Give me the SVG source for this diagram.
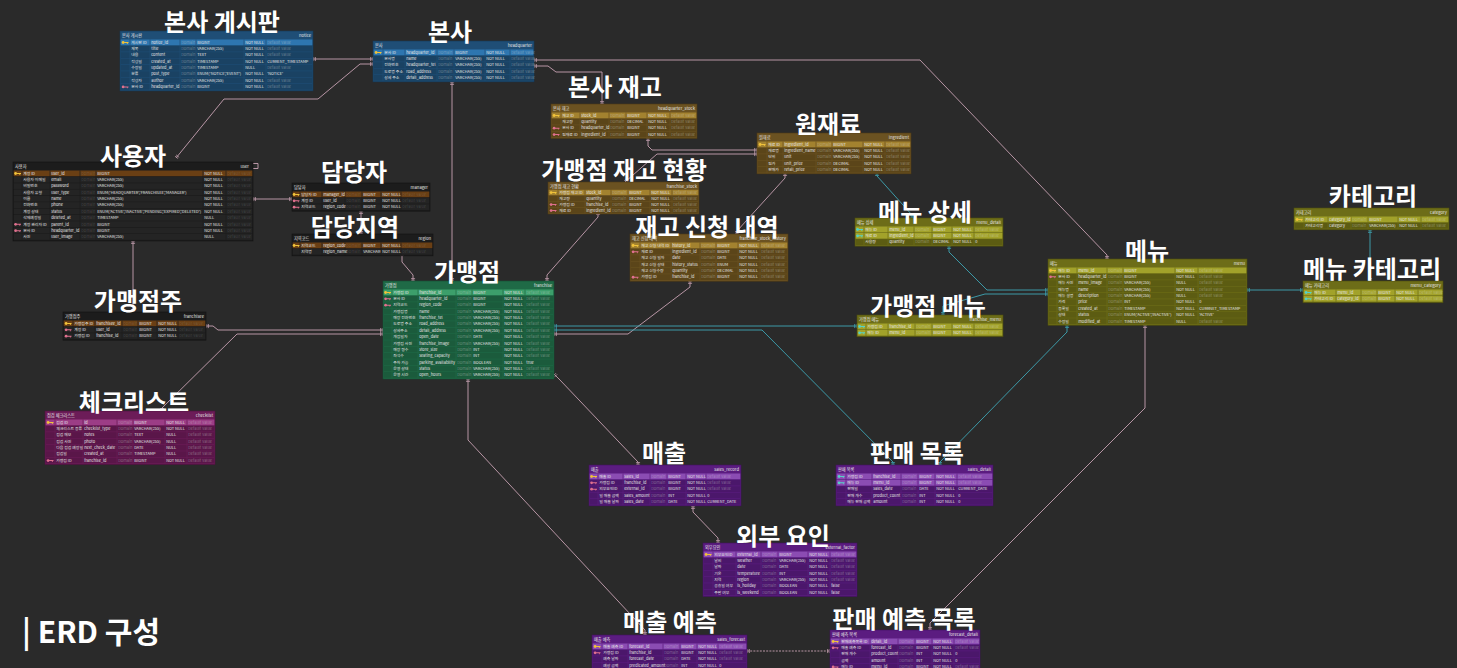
<svg xmlns="http://www.w3.org/2000/svg" width="1457" height="668" viewBox="0 0 1457 668">
<style>
.bg{fill:#2a2a2a}
.lb{font-family:"Noto Sans CJK KR","Noto Sans",sans-serif;font-weight:700;font-size:24px;fill:#fff;text-anchor:middle}
.ft{font-family:"Noto Sans CJK KR","Noto Sans",sans-serif;font-weight:700;font-size:30px;fill:#fff}
.tx{font-family:"Noto Sans CJK KR","Liberation Sans",sans-serif;font-size:3.9px;fill:#e6e6e6}
.hd{font-size:4.2px}
.en{text-anchor:end}
.dm{fill-opacity:.38}
.dark .dm{fill-opacity:.16}
.b{stroke-width:.6}
.s{stroke-width:.7;fill:none}
.blue .b{fill:#1f4e76;stroke:#163a58}.blue .r{fill:#1a4263}.blue .p{fill:#2e76b0}.blue .s{stroke:#1f4e76}
.dark .b{fill:#1c1c1c;stroke:#121212}.dark .r{fill:#242424}.dark .p{fill:#6a3f14}.dark .s{stroke:#1c1c1c}
.brown .b{fill:#6b5221;stroke:#4e3b14}.brown .r{fill:#5b4519}.brown .p{fill:#a3822f}.brown .s{stroke:#6b5221}
.green .b{fill:#1f6a46;stroke:#154d32}.green .r{fill:#1b5b3c}.green .p{fill:#3c9f6b}.green .s{stroke:#1f6a46}
.olive .b{fill:#6d6d18;stroke:#4d4d0e}.olive .r{fill:#5c5c12}.olive .p{fill:#a2a22a}.olive .s{stroke:#6d6d18}
.mag .b{fill:#6c1c58;stroke:#4e123f}.mag .r{fill:#5a1649}.mag .p{fill:#9c3d86}.mag .s{stroke:#6c1c58}
.pur .b{fill:#5b1c80;stroke:#42125e}.pur .r{fill:#4b176b}.pur .p{fill:#8b4cb3}.pur .s{stroke:#5b1c80}
.kp{fill:#f0c23a}.kf{fill:#e0708e}.kt{fill:#55d2c6}
.cp{fill:none;stroke:#c7a2b2;stroke-width:.9;marker-start:url(#mp);marker-end:url(#mp)}
.ct{fill:none;stroke:#3ea6b5;stroke-width:.9;marker-start:url(#mt);marker-end:url(#mt)}
.dash{stroke-dasharray:2 1.2}
</style>
<defs>
<g id="k"><circle cx="1.6" cy="2" r="1.4"/><path d="M2.6 1.5H7V2.5H6.2V3.4H5.4V2.5H2.6Z"/></g>
<marker id="mp" viewBox="0 0 6 6" refX="5" refY="3" markerWidth="5" markerHeight="5" markerUnits="userSpaceOnUse" orient="auto-start-reverse"><path d="M2 0.5V5.5M4 0.5V5.5" stroke="#c7a2b2" stroke-width=".8" fill="none"/></marker>
<marker id="mt" viewBox="0 0 6 6" refX="5" refY="3" markerWidth="5" markerHeight="5" markerUnits="userSpaceOnUse" orient="auto-start-reverse"><path d="M2 0.5V5.5M4 0.5V5.5" stroke="#3ea6b5" stroke-width=".8" fill="none"/></marker>
</defs>
<rect class="bg" width="1457" height="668"/>

<g id="connectors">
<path class="cp" d="M313 59H373"/>
<path class="cp" d="M176 158L224 99H318L360 64H373"/>
<path class="cp" d="M452 82V281"/>
<path class="cp" d="M534 66H548L556 72H602V104"/>
<path class="cp" d="M534 60H920L1107 255V259"/>
<path class="cp" d="M648 138V146L652 150H757"/>
<path class="cp" d="M625 182L657 154H757"/>
<path class="cp" d="M785 173V178L737 231V234"/>
<path class="cp" d="M598 212V217L547 275V281"/>
<path class="cp" d="M690 281V287L628 334H554"/>
<path class="cp" d="M402 253V262L413 275V281"/>
<path class="cp" d="M361 211V234"/>
<path class="cp" d="M253 199H292"/>
<path class="cp" d="M133 312V241"/>
<path class="cp" d="M383 330H218L213 326H206"/>
<path class="cp" d="M383 334H237L162 408V411"/>
<path class="cp" d="M554 374L560 380L638 462V465"/>
<path class="cp" d="M468 379V440L645 630V635"/>
<path class="cp" d="M1145 325V408L930 623V630"/>
<path class="cp" d="M693 506V512L718 538V543"/>
<path class="cp dash" d="M747 651H830"/>
<path fill="none" stroke="#c7a2b2" stroke-width=".9" d="M249 163.5H258V168.5H253"/>
<path class="ct" d="M554 326H857"/>
<path class="ct" d="M554 330H762L893 462V465"/>
<path class="ct" d="M949 246V252L987 290H1048"/>
<path class="ct" d="M943 315V306L985 294H1048"/>
<path class="ct" d="M877 173V176L912 215V218"/>
<path class="ct" d="M1067 325V332L940 462V465"/>
<path class="ct" d="M1247 290H1303"/>
<path class="ct" d="M1370 230V281"/>
</g>

<g id="node-notice">
<g class="blue tx" transform="translate(120,31)">
<rect class="b" width="193" height="59.9"/>
<text class="hd" x="2" y="6">본사 게시판</text><text class="hd en" x="191" y="6">notice</text>
<rect class="p" x=".7" y="8.5" width="191.6" height="5.75"/><rect class="r" x=".7" y="14.85" width="191.6" height="5.75"/><rect class="r" x=".7" y="21.2" width="191.6" height="5.75"/><rect class="r" x=".7" y="27.55" width="191.6" height="5.75"/><rect class="r" x=".7" y="33.9" width="191.6" height="5.75"/><rect class="r" x=".7" y="40.25" width="191.6" height="5.75"/><rect class="r" x=".7" y="46.6" width="191.6" height="5.75"/><rect class="r" x=".7" y="52.95" width="191.6" height="5.75"/>
<path class="s" d="M10 8.5V59.3M30 8.5V59.3M60 8.5V59.3M76 8.5V59.3M124 8.5V59.3M146 8.5V59.3"/>
<use href="#k" class="kp" x="1.5" y="9.5"/><use href="#k" class="kf" x="1.5" y="53.95"/>
<text y="12.7"><tspan x="11.2">게시판 ID</tspan><tspan x="31.2">notice_id</tspan><tspan x="61.2" class="dm">Domain</tspan><tspan x="77.2">BIGINT</tspan><tspan x="125.2">NOT NULL</tspan><tspan x="147.2" class="dm">Default value</tspan></text>
<text y="19.05"><tspan x="11.2">제목</tspan><tspan x="31.2">title</tspan><tspan x="61.2" class="dm">Domain</tspan><tspan x="77.2">VARCHAR(255)</tspan><tspan x="125.2">NOT NULL</tspan><tspan x="147.2" class="dm">Default value</tspan></text>
<text y="25.4"><tspan x="11.2">내용</tspan><tspan x="31.2">content</tspan><tspan x="61.2" class="dm">Domain</tspan><tspan x="77.2">TEXT</tspan><tspan x="125.2">NOT NULL</tspan><tspan x="147.2" class="dm">Default value</tspan></text>
<text y="31.75"><tspan x="11.2">작성일</tspan><tspan x="31.2">created_at</tspan><tspan x="61.2" class="dm">Domain</tspan><tspan x="77.2">TIMESTAMP</tspan><tspan x="125.2">NOT NULL</tspan><tspan x="147.2">CURRENT_TIMESTAMP</tspan></text>
<text y="38.1"><tspan x="11.2">수정일</tspan><tspan x="31.2">updated_at</tspan><tspan x="61.2" class="dm">Domain</tspan><tspan x="77.2">TIMESTAMP</tspan><tspan x="125.2">NULL</tspan><tspan x="147.2" class="dm">Default value</tspan></text>
<text y="44.45"><tspan x="11.2">분류</tspan><tspan x="31.2">post_type</tspan><tspan x="61.2" class="dm">Domain</tspan><tspan x="77.2">ENUM('NOTICE','EVENT')</tspan><tspan x="125.2">NOT NULL</tspan><tspan x="147.2">'NOTICE'</tspan></text>
<text y="50.8"><tspan x="11.2">작성자</tspan><tspan x="31.2">author</tspan><tspan x="61.2" class="dm">Domain</tspan><tspan x="77.2">VARCHAR(255)</tspan><tspan x="125.2">NOT NULL</tspan><tspan x="147.2" class="dm">Default value</tspan></text>
<text y="57.15"><tspan x="11.2">본사 ID</tspan><tspan x="31.2">headquarter_id</tspan><tspan x="61.2" class="dm">Domain</tspan><tspan x="77.2">BIGINT</tspan><tspan x="125.2">NOT NULL</tspan><tspan x="147.2" class="dm">Default value</tspan></text>
</g>
<text class="lb" x="222" y="31">본사 게시판</text>
</g>

<g id="node-headquarter">
<g class="blue tx" transform="translate(373,41)">
<rect class="b" width="161" height="40.85"/>
<text class="hd" x="2" y="6">본사</text><text class="hd en" x="159" y="6">headquarter</text>
<rect class="p" x=".7" y="8.5" width="159.6" height="5.75"/><rect class="r" x=".7" y="14.85" width="159.6" height="5.75"/><rect class="r" x=".7" y="21.2" width="159.6" height="5.75"/><rect class="r" x=".7" y="27.55" width="159.6" height="5.75"/><rect class="r" x=".7" y="33.9" width="159.6" height="5.75"/>
<path class="s" d="M10 8.5V40.25M32 8.5V40.25M64 8.5V40.25M81 8.5V40.25M112 8.5V40.25M137 8.5V40.25"/>
<use href="#k" class="kp" x="1.5" y="9.5"/>
<text y="12.7"><tspan x="11.2">본사 ID</tspan><tspan x="33.2">headquarter_id</tspan><tspan x="65.2" class="dm">Domain</tspan><tspan x="82.2">BIGINT</tspan><tspan x="113.2">NOT NULL</tspan><tspan x="138.2" class="dm">Default value</tspan></text>
<text y="19.05"><tspan x="11.2">본사명</tspan><tspan x="33.2">name</tspan><tspan x="65.2" class="dm">Domain</tspan><tspan x="82.2">VARCHAR(255)</tspan><tspan x="113.2">NOT NULL</tspan><tspan x="138.2" class="dm">Default value</tspan></text>
<text y="25.4"><tspan x="11.2">전화번호</tspan><tspan x="33.2">headquarter_tel</tspan><tspan x="65.2" class="dm">Domain</tspan><tspan x="82.2">VARCHAR(255)</tspan><tspan x="113.2">NOT NULL</tspan><tspan x="138.2" class="dm">Default value</tspan></text>
<text y="31.75"><tspan x="11.2">도로명 주소</tspan><tspan x="33.2">road_address</tspan><tspan x="65.2" class="dm">Domain</tspan><tspan x="82.2">VARCHAR(255)</tspan><tspan x="113.2">NOT NULL</tspan><tspan x="138.2" class="dm">Default value</tspan></text>
<text y="38.1"><tspan x="11.2">상세 주소</tspan><tspan x="33.2">detail_address</tspan><tspan x="65.2" class="dm">Domain</tspan><tspan x="82.2">VARCHAR(255)</tspan><tspan x="113.2">NOT NULL</tspan><tspan x="138.2" class="dm">Default value</tspan></text>
</g>
<text class="lb" x="450" y="41">본사</text>
</g>

<g id="node-user">
<g class="dark tx" transform="translate(13,162)">
<rect class="b" width="240" height="78.95"/>
<text class="hd" x="2" y="6">사용자</text><text class="hd en" x="236" y="6">user</text>
<rect class="p" x=".7" y="8.5" width="238.6" height="5.75"/><rect class="r" x=".7" y="14.85" width="238.6" height="5.75"/><rect class="r" x=".7" y="21.2" width="238.6" height="5.75"/><rect class="r" x=".7" y="27.55" width="238.6" height="5.75"/><rect class="r" x=".7" y="33.9" width="238.6" height="5.75"/><rect class="r" x=".7" y="40.25" width="238.6" height="5.75"/><rect class="r" x=".7" y="46.6" width="238.6" height="5.75"/><rect class="r" x=".7" y="52.95" width="238.6" height="5.75"/><rect class="r" x=".7" y="59.3" width="238.6" height="5.75"/><rect class="r" x=".7" y="65.65" width="238.6" height="5.75"/><rect class="r" x=".7" y="72" width="238.6" height="5.75"/>
<path class="s" d="M9 8.5V78.35M37 8.5V78.35M67 8.5V78.35M83 8.5V78.35M190 8.5V78.35M213 8.5V78.35"/>
<use href="#k" class="kp" x="1" y="9.5"/><use href="#k" class="kf" x="1" y="60.3"/><use href="#k" class="kf" x="1" y="66.65"/>
<text y="12.7"><tspan x="10.2">계정 ID</tspan><tspan x="38.2">user_id</tspan><tspan x="68.2" class="dm">Domain</tspan><tspan x="84.2">BIGINT</tspan><tspan x="191.2">NOT NULL</tspan><tspan x="214.2" class="dm">Default value</tspan></text>
<text y="19.05"><tspan x="10.2">사용자 이메일</tspan><tspan x="38.2">email</tspan><tspan x="68.2" class="dm">Domain</tspan><tspan x="84.2">VARCHAR(255)</tspan><tspan x="191.2">NOT NULL</tspan><tspan x="214.2" class="dm">Default value</tspan></text>
<text y="25.4"><tspan x="10.2">비밀번호</tspan><tspan x="38.2">password</tspan><tspan x="68.2" class="dm">Domain</tspan><tspan x="84.2">VARCHAR(255)</tspan><tspan x="191.2">NOT NULL</tspan><tspan x="214.2" class="dm">Default value</tspan></text>
<text y="31.75"><tspan x="10.2">사용자 유형</tspan><tspan x="38.2">user_type</tspan><tspan x="68.2" class="dm">Domain</tspan><tspan x="84.2">ENUM('HEADQUARTER','FRANCHISEE','MANAGER')</tspan><tspan x="191.2">NOT NULL</tspan><tspan x="214.2" class="dm">Default value</tspan></text>
<text y="38.1"><tspan x="10.2">이름</tspan><tspan x="38.2">name</tspan><tspan x="68.2" class="dm">Domain</tspan><tspan x="84.2">VARCHAR(255)</tspan><tspan x="191.2">NOT NULL</tspan><tspan x="214.2" class="dm">Default value</tspan></text>
<text y="44.45"><tspan x="10.2">전화번호</tspan><tspan x="38.2">phone</tspan><tspan x="68.2" class="dm">Domain</tspan><tspan x="84.2">VARCHAR(255)</tspan><tspan x="191.2">NOT NULL</tspan><tspan x="214.2" class="dm">Default value</tspan></text>
<text y="50.8"><tspan x="10.2">계정 상태</tspan><tspan x="38.2">status</tspan><tspan x="68.2" class="dm">Domain</tspan><tspan x="191.2">NOT NULL</tspan><tspan x="214.2" class="dm">Default value</tspan></text>
<text x="84.2" y="50.8" textLength="104" lengthAdjust="spacingAndGlyphs">ENUM('ACTIVE','INACTIVE','PENDING','EXPIRED','DELETED')</text>
<text y="57.15"><tspan x="10.2">삭제예정일</tspan><tspan x="38.2">deleted_at</tspan><tspan x="68.2" class="dm">Domain</tspan><tspan x="84.2">TIMESTAMP</tspan><tspan x="191.2">NULL</tspan><tspan x="214.2" class="dm">Default value</tspan></text>
<text y="63.5"><tspan x="10.2">계정 관리자 ID</tspan><tspan x="38.2">parent_id</tspan><tspan x="68.2" class="dm">Domain</tspan><tspan x="84.2">BIGINT</tspan><tspan x="191.2">NOT NULL</tspan><tspan x="214.2" class="dm">Default value</tspan></text>
<text y="69.85"><tspan x="10.2">본사 ID</tspan><tspan x="38.2">headquarter_id</tspan><tspan x="68.2" class="dm">Domain</tspan><tspan x="84.2">BIGINT</tspan><tspan x="191.2">NOT NULL</tspan><tspan x="214.2" class="dm">Default value</tspan></text>
<text y="76.2"><tspan x="10.2">사진</tspan><tspan x="38.2">user_image</tspan><tspan x="68.2" class="dm">Domain</tspan><tspan x="84.2">VARCHAR(255)</tspan><tspan x="191.2">NULL</tspan><tspan x="214.2" class="dm">Default value</tspan></text>
</g>
<text class="lb" x="133" y="165">사용자</text>
</g>

<g id="node-manager">
<g class="dark tx" transform="translate(292,183)">
<rect class="b" width="138" height="28.15"/>
<text class="hd" x="2" y="6">담당자</text><text class="hd en" x="136" y="6">manager</text>
<rect class="p" x=".7" y="8.5" width="136.6" height="5.75"/><rect class="r" x=".7" y="14.85" width="136.6" height="5.75"/><rect class="r" x=".7" y="21.2" width="136.6" height="5.75"/>
<path class="s" d="M8 8.5V27.55M30 8.5V27.55M53 8.5V27.55M70 8.5V27.55M89 8.5V27.55M109 8.5V27.55"/>
<use href="#k" class="kp" x=".5" y="9.5"/><use href="#k" class="kf" x=".5" y="15.85"/><use href="#k" class="kf" x=".5" y="22.2"/>
<text y="12.7"><tspan x="9.2">담당자 ID</tspan><tspan x="31.2">manager_id</tspan><tspan x="54.2" class="dm">Domain</tspan><tspan x="71.2">BIGINT</tspan><tspan x="90.2">NOT NULL</tspan><tspan x="110.2" class="dm">Default value</tspan></text>
<text y="19.05"><tspan x="9.2">계정 ID</tspan><tspan x="31.2">user_id</tspan><tspan x="54.2" class="dm">Domain</tspan><tspan x="71.2">BIGINT</tspan><tspan x="90.2">NOT NULL</tspan><tspan x="110.2" class="dm">Default value</tspan></text>
<text y="25.4"><tspan x="9.2">지역코드</tspan><tspan x="31.2">region_code</tspan><tspan x="54.2" class="dm">Domain</tspan><tspan x="71.2">BIGINT</tspan><tspan x="90.2">NOT NULL</tspan><tspan x="110.2" class="dm">Default value</tspan></text>
</g>
<text class="lb" x="354" y="181">담당자</text>
</g>

<g id="node-region">
<g class="dark tx" transform="translate(292,234)">
<rect class="b" width="141" height="21.8"/>
<text class="hd" x="2" y="6">지역코드</text><text class="hd en" x="139" y="6">region</text>
<rect class="p" x=".7" y="8.5" width="139.6" height="5.75"/><rect class="r" x=".7" y="14.85" width="139.6" height="5.75"/>
<path class="s" d="M8 8.5V21.2M30 8.5V21.2M53 8.5V21.2M70 8.5V21.2M89 8.5V21.2M109 8.5V21.2"/>
<use href="#k" class="kp" x=".5" y="9.5"/>
<text y="12.7"><tspan x="9.2">지역코드</tspan><tspan x="31.2">region_code</tspan><tspan x="54.2" class="dm">Domain</tspan><tspan x="71.2">BIGINT</tspan><tspan x="90.2">NOT NULL</tspan><tspan x="110.2" class="dm">Default value</tspan></text>
<text y="19.05"><tspan x="9.2">지역명</tspan><tspan x="31.2">region_name</tspan><tspan x="54.2" class="dm">Domain</tspan><tspan x="71.2">VARCHAR</tspan><tspan x="90.2">NOT NULL</tspan><tspan x="110.2" class="dm">Default value</tspan></text>
</g>
<text class="lb" x="355" y="236">담당지역</text>
</g>

<g id="node-franchisee">
<g class="dark tx" transform="translate(63,312)">
<rect class="b" width="143" height="28.15"/>
<text class="hd" x="2" y="6">가맹점주</text><text class="hd en" x="141" y="6">franchisee</text>
<rect class="p" x=".7" y="8.5" width="141.6" height="5.75"/><rect class="r" x=".7" y="14.85" width="141.6" height="5.75"/><rect class="r" x=".7" y="21.2" width="141.6" height="5.75"/>
<path class="s" d="M10 8.5V27.55M32 8.5V27.55M59 8.5V27.55M75 8.5V27.55M94 8.5V27.55M115 8.5V27.55"/>
<use href="#k" class="kp" x="1.5" y="9.5"/><use href="#k" class="kf" x="1.5" y="15.85"/><use href="#k" class="kf" x="1.5" y="22.2"/>
<text y="12.7"><tspan x="11.2">가맹점주 ID</tspan><tspan x="33.2">franchisee_id</tspan><tspan x="60.2" class="dm">Domain</tspan><tspan x="76.2">BIGINT</tspan><tspan x="95.2">NOT NULL</tspan><tspan x="116.2" class="dm">Default value</tspan></text>
<text y="19.05"><tspan x="11.2">계정 ID</tspan><tspan x="33.2">user_id</tspan><tspan x="60.2" class="dm">Domain</tspan><tspan x="76.2">BIGINT</tspan><tspan x="95.2">NOT NULL</tspan><tspan x="116.2" class="dm">Default value</tspan></text>
<text y="25.4"><tspan x="11.2">가맹점 ID</tspan><tspan x="33.2">franchise_id</tspan><tspan x="60.2" class="dm">Domain</tspan><tspan x="76.2">BIGINT</tspan><tspan x="95.2">NOT NULL</tspan><tspan x="116.2" class="dm">Default value</tspan></text>
</g>
<text class="lb" x="138" y="310">가맹점주</text>
</g>

<g id="node-checklist">
<g class="mag tx" transform="translate(45,411)">
<rect class="b" width="170" height="53.55"/>
<text class="hd" x="2" y="6">점검 체크리스트</text><text class="hd en" x="168" y="6">checklist</text>
<rect class="p" x=".7" y="8.5" width="168.6" height="5.75"/><rect class="r" x=".7" y="14.85" width="168.6" height="5.75"/><rect class="r" x=".7" y="21.2" width="168.6" height="5.75"/><rect class="r" x=".7" y="27.55" width="168.6" height="5.75"/><rect class="r" x=".7" y="33.9" width="168.6" height="5.75"/><rect class="r" x=".7" y="40.25" width="168.6" height="5.75"/><rect class="r" x=".7" y="46.6" width="168.6" height="5.75"/>
<path class="s" d="M10 8.5V52.95M38 8.5V52.95M72 8.5V52.95M88 8.5V52.95M120 8.5V52.95M142 8.5V52.95"/>
<use href="#k" class="kp" x="1.5" y="9.5"/><use href="#k" class="kf" x="1.5" y="47.6"/>
<text y="12.7"><tspan x="11.2">점검 ID</tspan><tspan x="39.2">id</tspan><tspan x="73.2" class="dm">Domain</tspan><tspan x="89.2">BIGINT</tspan><tspan x="121.2">NOT NULL</tspan><tspan x="143.2" class="dm">Default value</tspan></text>
<text y="19.05"><tspan x="11.2">체크리스트 종류</tspan><tspan x="39.2">checklist_type</tspan><tspan x="73.2" class="dm">Domain</tspan><tspan x="89.2">VARCHAR(255)</tspan><tspan x="121.2">NOT NULL</tspan><tspan x="143.2" class="dm">Default value</tspan></text>
<text y="25.4"><tspan x="11.2">점검 메모</tspan><tspan x="39.2">notes</tspan><tspan x="73.2" class="dm">Domain</tspan><tspan x="89.2">TEXT</tspan><tspan x="121.2">NULL</tspan><tspan x="143.2" class="dm">Default value</tspan></text>
<text y="31.75"><tspan x="11.2">점검 사진</tspan><tspan x="39.2">photo</tspan><tspan x="73.2" class="dm">Domain</tspan><tspan x="89.2">VARCHAR(255)</tspan><tspan x="121.2">NULL</tspan><tspan x="143.2" class="dm">Default value</tspan></text>
<text y="38.1"><tspan x="11.2">다음 점검 예정일</tspan><tspan x="39.2">next_check_date</tspan><tspan x="73.2" class="dm">Domain</tspan><tspan x="89.2">DATE</tspan><tspan x="121.2">NULL</tspan><tspan x="143.2" class="dm">Default value</tspan></text>
<text y="44.45"><tspan x="11.2">점검일</tspan><tspan x="39.2">created_at</tspan><tspan x="73.2" class="dm">Domain</tspan><tspan x="89.2">TIMESTAMP</tspan><tspan x="121.2">NULL</tspan><tspan x="143.2" class="dm">Default value</tspan></text>
<text y="50.8"><tspan x="11.2">가맹점 ID</tspan><tspan x="39.2">franchise_id</tspan><tspan x="73.2" class="dm">Domain</tspan><tspan x="89.2">BIGINT</tspan><tspan x="121.2">NOT NULL</tspan><tspan x="143.2" class="dm">Default value</tspan></text>
</g>
<text class="lb" x="134" y="411">체크리스트</text>
</g>

<g id="node-headquarter-stock">
<g class="brown tx" transform="translate(551,104)">
<rect class="b" width="146" height="34.5"/>
<text class="hd" x="2" y="6">본사 재고</text><text class="hd en" x="144" y="6">headquarter_stock</text>
<rect class="p" x=".7" y="8.5" width="144.6" height="5.75"/><rect class="r" x=".7" y="14.85" width="144.6" height="5.75"/><rect class="r" x=".7" y="21.2" width="144.6" height="5.75"/><rect class="r" x=".7" y="27.55" width="144.6" height="5.75"/>
<path class="s" d="M10 8.5V33.9M29 8.5V33.9M58 8.5V33.9M75 8.5V33.9M96 8.5V33.9M119 8.5V33.9"/>
<use href="#k" class="kp" x="1.5" y="9.5"/><use href="#k" class="kf" x="1.5" y="22.2"/><use href="#k" class="kf" x="1.5" y="28.55"/>
<text y="12.7"><tspan x="11.2">재고 ID</tspan><tspan x="30.2">stock_id</tspan><tspan x="59.2" class="dm">Domain</tspan><tspan x="76.2">BIGINT</tspan><tspan x="97.2">NOT NULL</tspan><tspan x="120.2" class="dm">Default value</tspan></text>
<text y="19.05"><tspan x="11.2">재고량</tspan><tspan x="30.2">quantity</tspan><tspan x="59.2" class="dm">Domain</tspan><tspan x="76.2">DECIMAL</tspan><tspan x="97.2">NOT NULL</tspan><tspan x="120.2" class="dm">Default value</tspan></text>
<text y="25.4"><tspan x="11.2">본사 ID</tspan><tspan x="30.2">headquarter_id</tspan><tspan x="59.2" class="dm">Domain</tspan><tspan x="76.2">BIGINT</tspan><tspan x="97.2">NOT NULL</tspan><tspan x="120.2" class="dm">Default value</tspan></text>
<text y="31.75"><tspan x="11.2">원재료 ID</tspan><tspan x="30.2">ingredient_id</tspan><tspan x="59.2" class="dm">Domain</tspan><tspan x="76.2">BIGINT</tspan><tspan x="97.2">NOT NULL</tspan><tspan x="120.2" class="dm">Default value</tspan></text>
</g>
<text class="lb" x="615" y="96">본사 재고</text>
</g>

<g id="node-ingredient">
<g class="brown tx" transform="translate(757,133)">
<rect class="b" width="154" height="40.85"/>
<text class="hd" x="2" y="6">원재료</text><text class="hd en" x="152" y="6">ingredient</text>
<rect class="p" x=".7" y="8.5" width="152.6" height="5.75"/><rect class="r" x=".7" y="14.85" width="152.6" height="5.75"/><rect class="r" x=".7" y="21.2" width="152.6" height="5.75"/><rect class="r" x=".7" y="27.55" width="152.6" height="5.75"/><rect class="r" x=".7" y="33.9" width="152.6" height="5.75"/>
<path class="s" d="M10 8.5V40.25M26 8.5V40.25M59 8.5V40.25M75 8.5V40.25M106 8.5V40.25M128 8.5V40.25"/>
<use href="#k" class="kp" x="1.5" y="9.5"/>
<text y="12.7"><tspan x="11.2">재료 ID</tspan><tspan x="27.2">ingredient_id</tspan><tspan x="60.2" class="dm">Domain</tspan><tspan x="76.2">BIGINT</tspan><tspan x="107.2">NOT NULL</tspan><tspan x="129.2" class="dm">Default value</tspan></text>
<text y="19.05"><tspan x="11.2">재료명</tspan><tspan x="27.2">ingredient_name</tspan><tspan x="60.2" class="dm">Domain</tspan><tspan x="76.2">VARCHAR(255)</tspan><tspan x="107.2">NOT NULL</tspan><tspan x="129.2" class="dm">Default value</tspan></text>
<text y="25.4"><tspan x="11.2">단위</tspan><tspan x="27.2">unit</tspan><tspan x="60.2" class="dm">Domain</tspan><tspan x="76.2">VARCHAR(255)</tspan><tspan x="107.2">NOT NULL</tspan><tspan x="129.2" class="dm">Default value</tspan></text>
<text y="31.75"><tspan x="11.2">원가</tspan><tspan x="27.2">unit_price</tspan><tspan x="60.2" class="dm">Domain</tspan><tspan x="76.2">DECIMAL</tspan><tspan x="107.2">NOT NULL</tspan><tspan x="129.2" class="dm">Default value</tspan></text>
<text y="38.1"><tspan x="11.2">판매가</tspan><tspan x="27.2">retail_price</tspan><tspan x="60.2" class="dm">Domain</tspan><tspan x="76.2">DECIMAL</tspan><tspan x="107.2">NOT NULL</tspan><tspan x="129.2" class="dm">Default value</tspan></text>
</g>
<text class="lb" x="828" y="133">원재료</text>
</g>

<g id="node-franchise-stock">
<g class="brown tx" transform="translate(548,182)">
<rect class="b" width="151" height="32"/>
<text class="hd" x="2" y="6">가맹점 재고 현황</text><text class="hd en" x="149" y="6">franchise_stock</text>
<rect class="p" x=".7" y="7.8" width="149.6" height="5.4"/><rect class="r" x=".7" y="13.8" width="149.6" height="5.4"/><rect class="r" x=".7" y="19.8" width="149.6" height="5.4"/><rect class="r" x=".7" y="25.8" width="149.6" height="5.4"/>
<path class="s" d="M10 7.8V31.4M37 7.8V31.4M63 7.8V31.4M80 7.8V31.4M102 7.8V31.4M124 7.8V31.4"/>
<use href="#k" class="kp" x="1.5" y="8.6"/><use href="#k" class="kf" x="1.5" y="20.6"/><use href="#k" class="kf" x="1.5" y="26.6"/>
<text y="11.8"><tspan x="11.2">가맹점 재고 ID</tspan><tspan x="38.2">stock_id</tspan><tspan x="64.2" class="dm">Domain</tspan><tspan x="81.2">BIGINT</tspan><tspan x="103.2">NOT NULL</tspan><tspan x="125.2" class="dm">Default value</tspan></text>
<text y="17.8"><tspan x="11.2">재고량</tspan><tspan x="38.2">quantity</tspan><tspan x="64.2" class="dm">Domain</tspan><tspan x="81.2">DECIMAL</tspan><tspan x="103.2">NOT NULL</tspan><tspan x="125.2" class="dm">Default value</tspan></text>
<text y="23.8"><tspan x="11.2">가맹점 ID</tspan><tspan x="38.2">franchise_id</tspan><tspan x="64.2" class="dm">Domain</tspan><tspan x="81.2">BIGINT</tspan><tspan x="103.2">NOT NULL</tspan><tspan x="125.2" class="dm">Default value</tspan></text>
<text y="29.8"><tspan x="11.2">재료 ID</tspan><tspan x="38.2">ingredient_id</tspan><tspan x="64.2" class="dm">Domain</tspan><tspan x="81.2">BIGINT</tspan><tspan x="103.2">NOT NULL</tspan><tspan x="125.2" class="dm">Default value</tspan></text>
</g>
<text class="lb" x="624" y="179">가맹점 재고 현황</text>
</g>

<g id="node-franchise-stock-history">
<g class="brown tx" transform="translate(630,234)">
<rect class="b" width="158" height="47.2"/>
<text class="hd" x="2" y="6">재고 신청 내역</text><text class="hd en" x="156" y="6">franchise_stock_history</text>
<rect class="p" x=".7" y="8.5" width="156.6" height="5.75"/><rect class="r" x=".7" y="14.85" width="156.6" height="5.75"/><rect class="r" x=".7" y="21.2" width="156.6" height="5.75"/><rect class="r" x=".7" y="27.55" width="156.6" height="5.75"/><rect class="r" x=".7" y="33.9" width="156.6" height="5.75"/><rect class="r" x=".7" y="40.25" width="156.6" height="5.75"/>
<path class="s" d="M10 8.5V46.6M41 8.5V46.6M70 8.5V46.6M86 8.5V46.6M108 8.5V46.6M130 8.5V46.6"/>
<use href="#k" class="kp" x="1.5" y="9.5"/><use href="#k" class="kf" x="1.5" y="15.85"/><use href="#k" class="kf" x="1.5" y="41.25"/>
<text y="12.7"><tspan x="11.2">재고 신청 내역 ID</tspan><tspan x="42.2">history_id</tspan><tspan x="71.2" class="dm">Domain</tspan><tspan x="87.2">BIGINT</tspan><tspan x="109.2">NOT NULL</tspan><tspan x="131.2" class="dm">Default value</tspan></text>
<text y="19.05"><tspan x="11.2">재료 ID</tspan><tspan x="42.2">ingredient_id</tspan><tspan x="71.2" class="dm">Domain</tspan><tspan x="87.2">BIGINT</tspan><tspan x="109.2">NOT NULL</tspan><tspan x="131.2" class="dm">Default value</tspan></text>
<text y="25.4"><tspan x="11.2">재고 신청 일자</tspan><tspan x="42.2">date</tspan><tspan x="71.2" class="dm">Domain</tspan><tspan x="87.2">DATE</tspan><tspan x="109.2">NOT NULL</tspan><tspan x="131.2" class="dm">Default value</tspan></text>
<text y="31.75"><tspan x="11.2">재고 신청 상태</tspan><tspan x="42.2">history_status</tspan><tspan x="71.2" class="dm">Domain</tspan><tspan x="87.2">ENUM</tspan><tspan x="109.2">NOT NULL</tspan><tspan x="131.2" class="dm">Default value</tspan></text>
<text y="38.1"><tspan x="11.2">재고 신청수량</tspan><tspan x="42.2">quantity</tspan><tspan x="71.2" class="dm">Domain</tspan><tspan x="87.2">DECIMAL</tspan><tspan x="109.2">NOT NULL</tspan><tspan x="131.2" class="dm">Default value</tspan></text>
<text y="44.45"><tspan x="11.2">가맹점 ID</tspan><tspan x="42.2">franchise_id</tspan><tspan x="71.2" class="dm">Domain</tspan><tspan x="87.2">BIGINT</tspan><tspan x="109.2">NOT NULL</tspan><tspan x="131.2" class="dm">Default value</tspan></text>
</g>
<text class="lb" x="707" y="236">재고 신청 내역</text>
</g>

<g id="node-franchise">
<g class="green tx" transform="translate(383,281)">
<rect class="b" width="171" height="98"/>
<text class="hd" x="2" y="6">가맹점</text><text class="hd en" x="169" y="6">franchise</text>
<rect class="p" x=".7" y="8.5" width="169.6" height="5.75"/><rect class="r" x=".7" y="14.85" width="169.6" height="5.75"/><rect class="r" x=".7" y="21.2" width="169.6" height="5.75"/><rect class="r" x=".7" y="27.55" width="169.6" height="5.75"/><rect class="r" x=".7" y="33.9" width="169.6" height="5.75"/><rect class="r" x=".7" y="40.25" width="169.6" height="5.75"/><rect class="r" x=".7" y="46.6" width="169.6" height="5.75"/><rect class="r" x=".7" y="52.95" width="169.6" height="5.75"/><rect class="r" x=".7" y="59.3" width="169.6" height="5.75"/><rect class="r" x=".7" y="65.65" width="169.6" height="5.75"/><rect class="r" x=".7" y="72" width="169.6" height="5.75"/><rect class="r" x=".7" y="78.35" width="169.6" height="5.75"/><rect class="r" x=".7" y="84.7" width="169.6" height="5.75"/><rect class="r" x=".7" y="91.05" width="169.6" height="5.75"/>
<path class="s" d="M9 8.5V97.4M35 8.5V97.4M73 8.5V97.4M89 8.5V97.4M120 8.5V97.4M142 8.5V97.4"/>
<use href="#k" class="kp" x="1" y="9.5"/><use href="#k" class="kf" x="1" y="15.85"/><use href="#k" class="kf" x="1" y="22.2"/>
<text y="12.7"><tspan x="10.2">가맹점 ID</tspan><tspan x="36.2">franchise_id</tspan><tspan x="74.2" class="dm">Domain</tspan><tspan x="90.2">BIGINT</tspan><tspan x="121.2">NOT NULL</tspan><tspan x="143.2" class="dm">Default value</tspan></text>
<text y="19.05"><tspan x="10.2">본사 ID</tspan><tspan x="36.2">headquarter_id</tspan><tspan x="74.2" class="dm">Domain</tspan><tspan x="90.2">BIGINT</tspan><tspan x="121.2">NOT NULL</tspan><tspan x="143.2" class="dm">Default value</tspan></text>
<text y="25.4"><tspan x="10.2">지역코드</tspan><tspan x="36.2">region_code</tspan><tspan x="74.2" class="dm">Domain</tspan><tspan x="90.2">BIGINT</tspan><tspan x="121.2">NOT NULL</tspan><tspan x="143.2" class="dm">Default value</tspan></text>
<text y="31.75"><tspan x="10.2">가맹점명</tspan><tspan x="36.2">name</tspan><tspan x="74.2" class="dm">Domain</tspan><tspan x="90.2">VARCHAR(255)</tspan><tspan x="121.2">NOT NULL</tspan><tspan x="143.2" class="dm">Default value</tspan></text>
<text y="38.1"><tspan x="10.2">매장 전화번호</tspan><tspan x="36.2">franchise_tel</tspan><tspan x="74.2" class="dm">Domain</tspan><tspan x="90.2">VARCHAR(255)</tspan><tspan x="121.2">NOT NULL</tspan><tspan x="143.2" class="dm">Default value</tspan></text>
<text y="44.45"><tspan x="10.2">도로명 주소</tspan><tspan x="36.2">road_address</tspan><tspan x="74.2" class="dm">Domain</tspan><tspan x="90.2">VARCHAR(255)</tspan><tspan x="121.2">NOT NULL</tspan><tspan x="143.2" class="dm">Default value</tspan></text>
<text y="50.8"><tspan x="10.2">상세주소</tspan><tspan x="36.2">detail_address</tspan><tspan x="74.2" class="dm">Domain</tspan><tspan x="90.2">VARCHAR(255)</tspan><tspan x="121.2">NOT NULL</tspan><tspan x="143.2" class="dm">Default value</tspan></text>
<text y="57.15"><tspan x="10.2">개점일자</tspan><tspan x="36.2">open_date</tspan><tspan x="74.2" class="dm">Domain</tspan><tspan x="90.2">DATE</tspan><tspan x="121.2">NOT NULL</tspan><tspan x="143.2" class="dm">Default value</tspan></text>
<text y="63.5"><tspan x="10.2">가맹점 사진</tspan><tspan x="36.2">franchise_image</tspan><tspan x="74.2" class="dm">Domain</tspan><tspan x="90.2">VARCHAR(255)</tspan><tspan x="121.2">NOT NULL</tspan><tspan x="143.2" class="dm">Default value</tspan></text>
<text y="69.85"><tspan x="10.2">매장 평수</tspan><tspan x="36.2">store_size</tspan><tspan x="74.2" class="dm">Domain</tspan><tspan x="90.2">INT</tspan><tspan x="121.2">NOT NULL</tspan><tspan x="143.2" class="dm">Default value</tspan></text>
<text y="76.2"><tspan x="10.2">좌석수</tspan><tspan x="36.2">seating_capacity</tspan><tspan x="74.2" class="dm">Domain</tspan><tspan x="90.2">INT</tspan><tspan x="121.2">NOT NULL</tspan><tspan x="143.2" class="dm">Default value</tspan></text>
<text y="82.55"><tspan x="10.2">주차 가능</tspan><tspan x="36.2">parking_availability</tspan><tspan x="74.2" class="dm">Domain</tspan><tspan x="90.2">BOOLEAN</tspan><tspan x="121.2">NOT NULL</tspan><tspan x="143.2">true</tspan></text>
<text y="88.9"><tspan x="10.2">운영 상태</tspan><tspan x="36.2">status</tspan><tspan x="74.2" class="dm">Domain</tspan><tspan x="90.2">VARCHAR(255)</tspan><tspan x="121.2">NOT NULL</tspan><tspan x="143.2" class="dm">Default value</tspan></text>
<text y="95.25"><tspan x="10.2">운영 시간</tspan><tspan x="36.2">open_hours</tspan><tspan x="74.2" class="dm">Domain</tspan><tspan x="90.2">VARCHAR(255)</tspan><tspan x="121.2">NOT NULL</tspan><tspan x="143.2" class="dm">Default value</tspan></text>
</g>
<text class="lb" x="467" y="281">가맹점</text>
</g>

<g id="node-menu-detail">
<g class="olive tx" transform="translate(855,218)">
<rect class="b" width="148" height="28.15"/>
<text class="hd" x="2" y="6">메뉴 상세</text><text class="hd en" x="146" y="6">menu_detail</text>
<rect class="p" x=".7" y="8.5" width="146.6" height="5.75"/><rect class="p" x=".7" y="14.85" width="146.6" height="5.75"/><rect class="r" x=".7" y="21.2" width="146.6" height="5.75"/>
<path class="s" d="M9 8.5V27.55M33 8.5V27.55M59 8.5V27.55M77 8.5V27.55M97 8.5V27.55M119 8.5V27.55"/>
<use href="#k" class="kt" x="1" y="9.5"/><use href="#k" class="kt" x="1" y="15.85"/>
<text y="12.7"><tspan x="10.2">메뉴 ID</tspan><tspan x="34.2">menu_id</tspan><tspan x="60.2" class="dm">Domain</tspan><tspan x="78.2">BIGINT</tspan><tspan x="98.2">NOT NULL</tspan><tspan x="120.2" class="dm">Default value</tspan></text>
<text y="19.05"><tspan x="10.2">재료 ID</tspan><tspan x="34.2">ingredient_id</tspan><tspan x="60.2" class="dm">Domain</tspan><tspan x="78.2">BIGINT</tspan><tspan x="98.2">NOT NULL</tspan><tspan x="120.2" class="dm">Default value</tspan></text>
<text y="25.4"><tspan x="10.2">사용량</tspan><tspan x="34.2">quantity</tspan><tspan x="60.2" class="dm">Domain</tspan><tspan x="78.2">DECIMAL</tspan><tspan x="98.2">NOT NULL</tspan><tspan x="120.2">0</tspan></text>
</g>
<text class="lb" x="925" y="221">메뉴 상세</text>
</g>

<g id="node-menu">
<g class="olive tx" transform="translate(1048,259)">
<rect class="b" width="199" height="66.25"/>
<text class="hd" x="2" y="6">메뉴</text><text class="hd en" x="197" y="6">menu</text>
<rect class="p" x=".7" y="8.5" width="197.6" height="5.75"/><rect class="r" x=".7" y="14.85" width="197.6" height="5.75"/><rect class="r" x=".7" y="21.2" width="197.6" height="5.75"/><rect class="r" x=".7" y="27.55" width="197.6" height="5.75"/><rect class="r" x=".7" y="33.9" width="197.6" height="5.75"/><rect class="r" x=".7" y="40.25" width="197.6" height="5.75"/><rect class="r" x=".7" y="46.6" width="197.6" height="5.75"/><rect class="r" x=".7" y="52.95" width="197.6" height="5.75"/><rect class="r" x=".7" y="59.3" width="197.6" height="5.75"/>
<path class="s" d="M9 8.5V65.65M29 8.5V65.65M59 8.5V65.65M75 8.5V65.65M127 8.5V65.65M150 8.5V65.65"/>
<use href="#k" class="kp" x="1" y="9.5"/><use href="#k" class="kf" x="1" y="15.85"/>
<text y="12.7"><tspan x="10.2">메뉴 ID</tspan><tspan x="30.2">menu_id</tspan><tspan x="60.2" class="dm">Domain</tspan><tspan x="76.2">BIGINT</tspan><tspan x="128.2">NOT NULL</tspan><tspan x="151.2" class="dm">Default value</tspan></text>
<text y="19.05"><tspan x="10.2">본사 ID</tspan><tspan x="30.2">headquarter_id</tspan><tspan x="60.2" class="dm">Domain</tspan><tspan x="76.2">BIGINT</tspan><tspan x="128.2">NOT NULL</tspan><tspan x="151.2" class="dm">Default value</tspan></text>
<text y="25.4"><tspan x="10.2">메뉴 사진</tspan><tspan x="30.2">menu_image</tspan><tspan x="60.2" class="dm">Domain</tspan><tspan x="76.2">VARCHAR(255)</tspan><tspan x="128.2">NULL</tspan><tspan x="151.2" class="dm">Default value</tspan></text>
<text y="31.75"><tspan x="10.2">메뉴명</tspan><tspan x="30.2">name</tspan><tspan x="60.2" class="dm">Domain</tspan><tspan x="76.2">VARCHAR(255)</tspan><tspan x="128.2">NOT NULL</tspan><tspan x="151.2" class="dm">Default value</tspan></text>
<text y="38.1"><tspan x="10.2">메뉴 설명</tspan><tspan x="30.2">description</tspan><tspan x="60.2" class="dm">Domain</tspan><tspan x="76.2">VARCHAR(255)</tspan><tspan x="128.2">NULL</tspan><tspan x="151.2" class="dm">Default value</tspan></text>
<text y="44.45"><tspan x="10.2">가격</tspan><tspan x="30.2">price</tspan><tspan x="60.2" class="dm">Domain</tspan><tspan x="76.2">INT</tspan><tspan x="128.2">NOT NULL</tspan><tspan x="151.2">0</tspan></text>
<text y="50.8"><tspan x="10.2">등록일</tspan><tspan x="30.2">created_at</tspan><tspan x="60.2" class="dm">Domain</tspan><tspan x="76.2">TIMESTAMP</tspan><tspan x="128.2">NOT NULL</tspan><tspan x="151.2">CURRNET_TIMESTAMP</tspan></text>
<text y="57.15"><tspan x="10.2">상태</tspan><tspan x="30.2">status</tspan><tspan x="60.2" class="dm">Domain</tspan><tspan x="76.2">ENUM('ACTIVE','INACTIVE')</tspan><tspan x="128.2">NOT NULL</tspan><tspan x="151.2">'ACTIVE'</tspan></text>
<text y="63.5"><tspan x="10.2">수정일</tspan><tspan x="30.2">modified_at</tspan><tspan x="60.2" class="dm">Domain</tspan><tspan x="76.2">TIMESTAMP</tspan><tspan x="128.2">NULL</tspan><tspan x="151.2" class="dm">Default value</tspan></text>
</g>
<text class="lb" x="1147" y="260">메뉴</text>
</g>

<g id="node-category">
<g class="olive tx" transform="translate(1294,208)">
<rect class="b" width="155" height="21.8"/>
<text class="hd" x="2" y="6">카테고리</text><text class="hd en" x="153" y="6">category</text>
<rect class="p" x=".7" y="8.5" width="153.6" height="5.75"/><rect class="r" x=".7" y="14.85" width="153.6" height="5.75"/>
<path class="s" d="M10 8.5V21.2M34 8.5V21.2M57 8.5V21.2M74 8.5V21.2M104 8.5V21.2M127 8.5V21.2"/>
<use href="#k" class="kp" x="1.5" y="9.5"/>
<text y="12.7"><tspan x="11.2">카테고리 ID</tspan><tspan x="35.2">category_id</tspan><tspan x="58.2" class="dm">Domain</tspan><tspan x="75.2">BIGINT</tspan><tspan x="105.2">NOT NULL</tspan><tspan x="128.2" class="dm">Default value</tspan></text>
<text y="19.05"><tspan x="11.2">카테고리명</tspan><tspan x="35.2">category</tspan><tspan x="58.2" class="dm">Domain</tspan><tspan x="75.2">VARCHAR(255)</tspan><tspan x="105.2">NOT NULL</tspan><tspan x="128.2" class="dm">Default value</tspan></text>
</g>
<text class="lb" x="1373" y="205">카테고리</text>
</g>

<g id="node-menu-category">
<g class="olive tx" transform="translate(1303,281)">
<rect class="b" width="140" height="21.8"/>
<text class="hd" x="2" y="6">메뉴 카테고리</text><text class="hd en" x="138" y="6">menu_category</text>
<rect class="p" x=".7" y="8.5" width="138.6" height="5.75"/><rect class="p" x=".7" y="14.85" width="138.6" height="5.75"/>
<path class="s" d="M10 8.5V21.2M33 8.5V21.2M58 8.5V21.2M74 8.5V21.2M92 8.5V21.2M115 8.5V21.2"/>
<use href="#k" class="kt" x="1.5" y="9.5"/><use href="#k" class="kt" x="1.5" y="15.85"/>
<text y="12.7"><tspan x="11.2">메뉴 ID</tspan><tspan x="34.2">menu_id</tspan><tspan x="59.2" class="dm">Domain</tspan><tspan x="75.2">BIGINT</tspan><tspan x="93.2">NOT NULL</tspan><tspan x="116.2" class="dm">Default value</tspan></text>
<text y="19.05"><tspan x="11.2">카테고리 ID</tspan><tspan x="34.2">category_id</tspan><tspan x="59.2" class="dm">Domain</tspan><tspan x="75.2">BIGINT</tspan><tspan x="93.2">NOT NULL</tspan><tspan x="116.2" class="dm">Default value</tspan></text>
</g>
<text class="lb" x="1372" y="278">메뉴 카테고리</text>
</g>

<g id="node-franchise-menu">
<g class="olive tx" transform="translate(857,315)">
<rect class="b" width="146" height="21.8"/>
<text class="hd" x="2" y="6">가맹점 메뉴</text><text class="hd en" x="144" y="6">franchise_menu</text>
<rect class="p" x=".7" y="8.5" width="144.6" height="5.75"/><rect class="p" x=".7" y="14.85" width="144.6" height="5.75"/>
<path class="s" d="M9 8.5V21.2M31 8.5V21.2M58 8.5V21.2M75 8.5V21.2M95 8.5V21.2M117 8.5V21.2"/>
<use href="#k" class="kt" x="1" y="9.5"/><use href="#k" class="kt" x="1" y="15.85"/>
<text y="12.7"><tspan x="10.2">가맹점 ID</tspan><tspan x="32.2">franchise_id</tspan><tspan x="59.2" class="dm">Domain</tspan><tspan x="76.2">BIGINT</tspan><tspan x="96.2">NOT NULL</tspan><tspan x="118.2" class="dm">Default value</tspan></text>
<text y="19.05"><tspan x="10.2">메뉴 ID</tspan><tspan x="32.2">menu_id</tspan><tspan x="59.2" class="dm">Domain</tspan><tspan x="76.2">BIGINT</tspan><tspan x="96.2">NOT NULL</tspan><tspan x="118.2" class="dm">Default value</tspan></text>
</g>
<text class="lb" x="928" y="315">가맹점 메뉴</text>
</g>

<g id="node-sales-record">
<g class="pur tx" transform="translate(589,465)">
<rect class="b" width="152" height="40.85"/>
<text class="hd" x="2" y="6">매출</text><text class="hd en" x="150" y="6">sales_record</text>
<rect class="p" x=".7" y="8.5" width="150.6" height="5.75"/><rect class="r" x=".7" y="14.85" width="150.6" height="5.75"/><rect class="r" x=".7" y="21.2" width="150.6" height="5.75"/><rect class="r" x=".7" y="27.55" width="150.6" height="5.75"/><rect class="r" x=".7" y="33.9" width="150.6" height="5.75"/>
<path class="s" d="M9 8.5V40.25M34 8.5V40.25M61 8.5V40.25M78 8.5V40.25M97 8.5V40.25M117 8.5V40.25"/>
<use href="#k" class="kp" x="1" y="9.5"/><use href="#k" class="kf" x="1" y="15.85"/><use href="#k" class="kf" x="1" y="22.2"/>
<text y="12.7"><tspan x="10.2">매출 ID</tspan><tspan x="35.2">sales_id</tspan><tspan x="62.2" class="dm">Domain</tspan><tspan x="79.2">BIGINT</tspan><tspan x="98.2">NOT NULL</tspan><tspan x="118.2" class="dm">Default value</tspan></text>
<text y="19.05"><tspan x="10.2">가맹점 ID</tspan><tspan x="35.2">franchise_id</tspan><tspan x="62.2" class="dm">Domain</tspan><tspan x="79.2">BIGINT</tspan><tspan x="98.2">NOT NULL</tspan><tspan x="118.2" class="dm">Default value</tspan></text>
<text y="25.4"><tspan x="10.2">외부요인ID</tspan><tspan x="35.2">external_id</tspan><tspan x="62.2" class="dm">Domain</tspan><tspan x="79.2">BIGINT</tspan><tspan x="98.2">NOT NULL</tspan><tspan x="118.2" class="dm">Default value</tspan></text>
<text y="31.75"><tspan x="10.2">일 매출 금액</tspan><tspan x="35.2">sales_amount</tspan><tspan x="62.2" class="dm">Domain</tspan><tspan x="79.2">INT</tspan><tspan x="98.2">NOT NULL</tspan><tspan x="118.2">0</tspan></text>
<text y="38.1"><tspan x="10.2">일 매출 날짜</tspan><tspan x="35.2">sales_date</tspan><tspan x="62.2" class="dm">Domain</tspan><tspan x="79.2">DATE</tspan><tspan x="98.2">NOT NULL</tspan><tspan x="118.2">CURRENT_DATE</tspan></text>
</g>
<text class="lb" x="664" y="462">매출</text>
</g>

<g id="node-sales-detail">
<g class="pur tx" transform="translate(836,465)">
<rect class="b" width="157" height="40.85"/>
<text class="hd" x="2" y="6">판매 목록</text><text class="hd en" x="155" y="6">sales_detail</text>
<rect class="p" x=".7" y="8.5" width="155.6" height="5.75"/><rect class="p" x=".7" y="14.85" width="155.6" height="5.75"/><rect class="r" x=".7" y="21.2" width="155.6" height="5.75"/><rect class="r" x=".7" y="27.55" width="155.6" height="5.75"/><rect class="r" x=".7" y="33.9" width="155.6" height="5.75"/>
<path class="s" d="M10 8.5V40.25M36 8.5V40.25M65 8.5V40.25M82 8.5V40.25M99 8.5V40.25M121 8.5V40.25"/>
<use href="#k" class="kt" x="1.5" y="9.5"/><use href="#k" class="kt" x="1.5" y="15.85"/>
<text y="12.7"><tspan x="11.2">가맹점 ID</tspan><tspan x="37.2">franchise_id</tspan><tspan x="66.2" class="dm">Domain</tspan><tspan x="83.2">BIGINT</tspan><tspan x="100.2">NOT NULL</tspan><tspan x="122.2" class="dm">Default value</tspan></text>
<text y="19.05"><tspan x="11.2">메뉴 ID</tspan><tspan x="37.2">menu_id</tspan><tspan x="66.2" class="dm">Domain</tspan><tspan x="83.2">BIGINT</tspan><tspan x="100.2">NOT NULL</tspan><tspan x="122.2" class="dm">Default value</tspan></text>
<text y="25.4"><tspan x="11.2">판매일</tspan><tspan x="37.2">sales_date</tspan><tspan x="66.2" class="dm">Domain</tspan><tspan x="83.2">DATE</tspan><tspan x="100.2">NOT NULL</tspan><tspan x="122.2">CURRENT_DATE</tspan></text>
<text y="31.75"><tspan x="11.2">판매 개수</tspan><tspan x="37.2">product_count</tspan><tspan x="66.2" class="dm">Domain</tspan><tspan x="83.2">INT</tspan><tspan x="100.2">NOT NULL</tspan><tspan x="122.2">0</tspan></text>
<text y="38.1"><tspan x="11.2">메뉴 판매 금액</tspan><tspan x="37.2">amount</tspan><tspan x="66.2" class="dm">Domain</tspan><tspan x="83.2">INT</tspan><tspan x="100.2">NOT NULL</tspan><tspan x="122.2">0</tspan></text>
</g>
<text class="lb" x="917" y="462">판매 목록</text>
</g>

<g id="node-external-factor">
<g class="pur tx" transform="translate(703,543)">
<rect class="b" width="154" height="53.55"/>
<text class="hd" x="2" y="6">외부요인</text><text class="hd en" x="152" y="6">external_factor</text>
<rect class="p" x=".7" y="8.5" width="152.6" height="5.75"/><rect class="r" x=".7" y="14.85" width="152.6" height="5.75"/><rect class="r" x=".7" y="21.2" width="152.6" height="5.75"/><rect class="r" x=".7" y="27.55" width="152.6" height="5.75"/><rect class="r" x=".7" y="33.9" width="152.6" height="5.75"/><rect class="r" x=".7" y="40.25" width="152.6" height="5.75"/><rect class="r" x=".7" y="46.6" width="152.6" height="5.75"/>
<path class="s" d="M10 8.5V52.95M33 8.5V52.95M58 8.5V52.95M75 8.5V52.95M105 8.5V52.95M127 8.5V52.95"/>
<use href="#k" class="kp" x="1.5" y="9.5"/>
<text y="12.7"><tspan x="11.2">외부요인ID</tspan><tspan x="34.2">external_id</tspan><tspan x="59.2" class="dm">Domain</tspan><tspan x="76.2">BIGINT</tspan><tspan x="106.2">NOT NULL</tspan><tspan x="128.2" class="dm">Default value</tspan></text>
<text y="19.05"><tspan x="11.2">날씨</tspan><tspan x="34.2">weather</tspan><tspan x="59.2" class="dm">Domain</tspan><tspan x="76.2">VARCHAR(255)</tspan><tspan x="106.2">NOT NULL</tspan><tspan x="128.2" class="dm">Default value</tspan></text>
<text y="25.4"><tspan x="11.2">날짜</tspan><tspan x="34.2">date</tspan><tspan x="59.2" class="dm">Domain</tspan><tspan x="76.2">DATE</tspan><tspan x="106.2">NOT NULL</tspan><tspan x="128.2" class="dm">Default value</tspan></text>
<text y="31.75"><tspan x="11.2">기온</tspan><tspan x="34.2">temperature</tspan><tspan x="59.2" class="dm">Domain</tspan><tspan x="76.2">INT</tspan><tspan x="106.2">NOT NULL</tspan><tspan x="128.2" class="dm">Default value</tspan></text>
<text y="38.1"><tspan x="11.2">지역</tspan><tspan x="34.2">region</tspan><tspan x="59.2" class="dm">Domain</tspan><tspan x="76.2">VARCHAR(255)</tspan><tspan x="106.2">NOT NULL</tspan><tspan x="128.2" class="dm">Default value</tspan></text>
<text y="44.45"><tspan x="11.2">공휴일 여부</tspan><tspan x="34.2">is_holiday</tspan><tspan x="59.2" class="dm">Domain</tspan><tspan x="76.2">BOOLEAN</tspan><tspan x="106.2">NOT NULL</tspan><tspan x="128.2">false</tspan></text>
<text y="50.8"><tspan x="11.2">주말 여부</tspan><tspan x="34.2">is_weekend</tspan><tspan x="59.2" class="dm">Domain</tspan><tspan x="76.2">BOOLEAN</tspan><tspan x="106.2">NOT NULL</tspan><tspan x="128.2">false</tspan></text>
</g>
<text class="lb" x="783" y="545">외부 요인</text>
</g>

<g id="node-sales-forecast">
<g class="pur tx" transform="translate(592,635)">
<rect class="b" width="155" height="40"/>
<text class="hd" x="2" y="6">매출 예측</text><text class="hd en" x="153" y="6">sales_forecast</text>
<rect class="p" x=".7" y="8.5" width="153.6" height="5.75"/><rect class="r" x=".7" y="14.85" width="153.6" height="5.75"/><rect class="r" x=".7" y="21.2" width="153.6" height="5.75"/><rect class="r" x=".7" y="27.55" width="153.6" height="5.75"/><rect class="r" x=".7" y="33.9" width="153.6" height="5.75"/>
<path class="s" d="M10 8.5V40M36 8.5V40M71 8.5V40M88 8.5V40M105 8.5V40M126 8.5V40"/>
<use href="#k" class="kp" x="1.5" y="9.5"/><use href="#k" class="kf" x="1.5" y="15.85"/>
<text y="12.7"><tspan x="11.2">매출 예측 ID</tspan><tspan x="37.2">forecast_id</tspan><tspan x="72.2" class="dm">Domain</tspan><tspan x="89.2">BIGINT</tspan><tspan x="106.2">NOT NULL</tspan><tspan x="127.2" class="dm">Default value</tspan></text>
<text y="19.05"><tspan x="11.2">가맹점 ID</tspan><tspan x="37.2">franchise_id</tspan><tspan x="72.2" class="dm">Domain</tspan><tspan x="89.2">BIGINT</tspan><tspan x="106.2">NOT NULL</tspan><tspan x="127.2" class="dm">Default value</tspan></text>
<text y="25.4"><tspan x="11.2">예측 날짜</tspan><tspan x="37.2">forecast_date</tspan><tspan x="72.2" class="dm">Domain</tspan><tspan x="89.2">DATE</tspan><tspan x="106.2">NOT NULL</tspan><tspan x="127.2" class="dm">Default value</tspan></text>
<text y="31.75"><tspan x="11.2">예상 금액</tspan><tspan x="37.2">predicated_amount</tspan><tspan x="72.2" class="dm">Domain</tspan><tspan x="89.2">INT</tspan><tspan x="106.2">NOT NULL</tspan><tspan x="127.2">0</tspan></text>
</g>
<text class="lb" x="670" y="631">매출 예측</text>
</g>

<g id="node-forecast-detail">
<g class="pur tx" transform="translate(830,630)">
<rect class="b" width="150" height="45"/>
<text class="hd" x="2" y="6">판매 예측 목록</text><text class="hd en" x="148" y="6">forecast_detail</text>
<rect class="p" x=".7" y="8.5" width="148.6" height="5.75"/><rect class="r" x=".7" y="14.85" width="148.6" height="5.75"/><rect class="r" x=".7" y="21.2" width="148.6" height="5.75"/><rect class="r" x=".7" y="27.55" width="148.6" height="5.75"/><rect class="r" x=".7" y="33.9" width="148.6" height="5.75"/>
<path class="s" d="M10 8.5V45M40 8.5V45M68 8.5V45M85 8.5V45M102 8.5V45M124 8.5V45"/>
<use href="#k" class="kp" x="1.5" y="9.5"/><use href="#k" class="kf" x="1.5" y="15.85"/><use href="#k" class="kf" x="1.5" y="34.9"/>
<text y="12.7"><tspan x="11.2">판매예측목록 ID</tspan><tspan x="41.2">detail_id</tspan><tspan x="69.2" class="dm">Domain</tspan><tspan x="86.2">BIGINT</tspan><tspan x="103.2">NOT NULL</tspan><tspan x="125.2" class="dm">Default value</tspan></text>
<text y="19.05"><tspan x="11.2">매출 예측 ID</tspan><tspan x="41.2">forecast_id</tspan><tspan x="69.2" class="dm">Domain</tspan><tspan x="86.2">BIGINT</tspan><tspan x="103.2">NOT NULL</tspan><tspan x="125.2" class="dm">Default value</tspan></text>
<text y="25.4"><tspan x="11.2">판매 개수</tspan><tspan x="41.2">product_count</tspan><tspan x="69.2" class="dm">Domain</tspan><tspan x="86.2">INT</tspan><tspan x="103.2">NOT NULL</tspan><tspan x="125.2">0</tspan></text>
<text y="31.75"><tspan x="11.2">금액</tspan><tspan x="41.2">amount</tspan><tspan x="69.2" class="dm">Domain</tspan><tspan x="86.2">INT</tspan><tspan x="103.2">NOT NULL</tspan><tspan x="125.2">0</tspan></text>
<text y="38.1"><tspan x="11.2">메뉴 ID</tspan><tspan x="41.2">menu_id</tspan><tspan x="69.2" class="dm">Domain</tspan><tspan x="86.2">BIGINT</tspan><tspan x="103.2">NOT NULL</tspan><tspan x="125.2" class="dm">Default value</tspan></text>
</g>
<text class="lb" x="904" y="628">판매 예측 목록</text>
</g>

<text class="ft" x="22" y="643">| ERD 구성</text>
</svg>
